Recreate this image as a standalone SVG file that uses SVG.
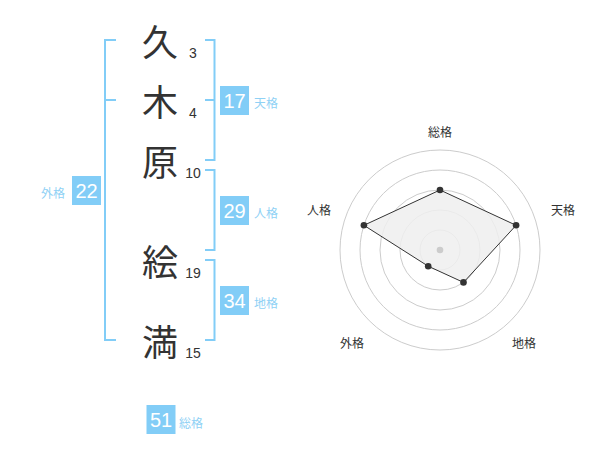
<svg xmlns="http://www.w3.org/2000/svg" width="600" height="470" viewBox="0 0 600 470">
<style>
.k{font-family:"Noto Sans CJK JP","Noto Sans",sans-serif;font-size:36px;fill:#333;text-anchor:middle;dominant-baseline:central}
.n{font-family:"Liberation Sans",Arial,sans-serif;font-size:14px;fill:#333;text-anchor:middle}
.br{fill:none;stroke:#82cdf7;stroke-width:2}
.box{fill:#82cdf7}
.bn{font-family:"Liberation Sans",Arial,sans-serif;font-size:20px;fill:#fff;text-anchor:middle;dominant-baseline:central}
.lb{font-family:"Noto Sans CJK JP","Noto Sans",sans-serif;font-size:12px;fill:#8fd1f5;dominant-baseline:central}
.rl{font-family:"Noto Sans CJK JP","Noto Sans",sans-serif;font-size:12px;fill:#333;text-anchor:middle;dominant-baseline:central}
.ring{fill:none;stroke:#cccccc;stroke-width:1}
.pt{fill:#333}
</style>
<rect width="600" height="470" fill="#fff"/>
<g id="chars">
<g id="c1"><text class="k" x="160" y="40">久</text><text class="n" x="193" y="58">3</text></g>
<g id="c2"><text class="k" x="160" y="100">木</text><text class="n" x="193" y="118">4</text></g>
<g id="c3"><text class="k" x="160" y="160">原</text><text class="n" x="193" y="178">10</text></g>
<g id="c4"><text class="k" x="160" y="260">絵</text><text class="n" x="193" y="278">19</text></g>
<g id="c5"><text class="k" x="160" y="340">満</text><text class="n" x="193" y="358">15</text></g>
</g>
<g id="connectors">
<path class="br" d="M116,40 H105 V340 H116 M105,100 H116"/>
<path class="br" d="M205,40 H214.5 V160 H205 M205,100 H214.5"/>
<path class="br" d="M205,170 H214.5 V250 H205"/>
<path class="br" d="M205,260 H214.5 V340 H205"/>
</g>
<g id="tenkaku"><rect class="box" x="220" y="86" width="29" height="29"/><text class="bn" x="234.5" y="101">17</text><text class="lb" x="254" y="102">天格</text></g>
<g id="jinkaku"><rect class="box" x="220" y="196" width="29" height="29"/><text class="bn" x="234.5" y="211">29</text><text class="lb" x="254" y="212">人格</text></g>
<g id="chikaku"><rect class="box" x="220" y="286" width="29" height="29"/><text class="bn" x="234.5" y="301">34</text><text class="lb" x="254" y="302">地格</text></g>
<g id="gaikaku"><rect class="box" x="72" y="176" width="29" height="29"/><text class="bn" x="86.5" y="191">22</text><text class="lb" x="65" y="192" text-anchor="end">外格</text></g>
<g id="soukaku"><rect class="box" x="146.5" y="405" width="29" height="29"/><text class="bn" x="161" y="420">51</text><text class="lb" x="179" y="422">総格</text></g>
<g id="radar">
<circle class="ring" cx="440" cy="250" r="20"/>
<circle class="ring" cx="440" cy="250" r="40"/>
<circle class="ring" cx="440" cy="250" r="60"/>
<circle class="ring" cx="440" cy="250" r="80"/>
<circle class="ring" cx="440" cy="250" r="100"/>
<polygon points="440,190 516.1,225.3 463.5,282.4 428.2,266.2 363.9,225.3" fill="#eeeeee" fill-opacity="0.85" stroke="#333" stroke-width="1"/>
<circle cx="440" cy="250" r="3.3" fill="#cccccc"/>
<circle class="pt" cx="440" cy="190" r="3.3"/>
<circle class="pt" cx="516.1" cy="225.3" r="3.3"/>
<circle class="pt" cx="463.5" cy="282.4" r="3.3"/>
<circle class="pt" cx="428.2" cy="266.2" r="3.3"/>
<circle class="pt" cx="363.9" cy="225.3" r="3.3"/>
<text class="rl" x="440" y="131">総格</text>
<text class="rl" x="563" y="209">天格</text>
<text class="rl" x="524" y="342">地格</text>
<text class="rl" x="352" y="342">外格</text>
<text class="rl" x="319" y="209">人格</text>
</g>
</svg>
